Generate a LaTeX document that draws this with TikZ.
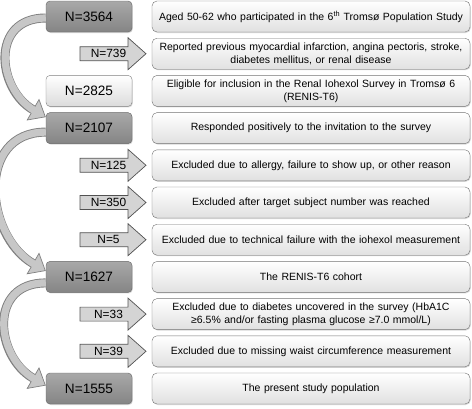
\documentclass[tikz,border=0pt]{standalone}
\usepackage{fontspec}
\setmainfont{Liberation Sans}
\usetikzlibrary{arrows.meta,shadows,calc}

\tikzset{
  countbox/.style={rounded corners=4pt, minimum width=86pt, minimum height=31pt,
    draw=black!60, top color=black!34, bottom color=black!48,
    drop shadow={shadow xshift=0.8pt, shadow yshift=-1pt, opacity=0.3},
    font=\fontsize{13.6}{16}\selectfont},
  lightbox/.style={countbox, draw=black!50, top color=white, bottom color=black!14},
  stepbox/.style={rounded corners=5pt, minimum width=318pt, minimum height=31pt,
    text width=306pt, align=center, draw=black!55, top color=white, bottom color=black!12,
    drop shadow={shadow xshift=0.8pt, shadow yshift=-1pt, opacity=0.3},
    font=\fontsize{10.5}{13}\selectfont},
  exclshape/.style={draw=black!68, line width=0.7pt, fill=black!17, line join=miter},
  excltext/.style={inner sep=0pt, font=\fontsize{11.9}{14}\selectfont},
  band/.style={line width=9pt, draw=black!50,
    -{Triangle[length=15pt, width=25pt, fill=black!22, line width=0.7pt]}},
  bandfill/.style={line width=7.2pt, draw=black!22, shorten >=13pt}
}

\begin{document}
\begin{tikzpicture}[x=1pt,y=1pt]
  \useasboundingbox (0,0) rectangle (472,-408);
  % Counts on the left
  \node[countbox] (n3564) at (89,-16.5) {N=3564};
  \node[lightbox] (n2825) at (89,-90.9) {N=2825};
  \node[countbox] (n2107) at (89,-128.1) {N=2107};
  \node[countbox] (n1627) at (89,-276.9) {N=1627};
  \node[countbox] (n1555) at (89,-388.5) {N=1555};
  % Exclusion arrows
  \foreach \y/\n in {-53.7/739, -165.3/125, -202.5/350, -239.7/5, -314.1/33, -351.3/39} {
    \draw[exclshape] (80,\y+7) -- (128,\y+7) -- (128,\y+16) -- (146,\y)
      -- (128,\y-16) -- (128,\y-7) -- (80,\y-7) -- cycle;
    \node[excltext] (n\n) at (108.5,\y) {N=\n};
  }
  % Descriptions on the right
  \node[stepbox] (s1) at (311,-16.5) {Aged 50-62 who participated in the 6\textsuperscript{th} Troms\o{} Population Study};
  \node[stepbox] (s2) at (311,-53.7) {Reported previous myocardial infarction, angina pectoris, stroke,\\ diabetes mellitus, or renal disease};
  \node[stepbox] (s3) at (311,-90.9) {Eligible for inclusion in the Renal Iohexol Survey in Troms\o{} 6\\ (RENIS-T6)};
  \node[stepbox] (s4) at (311,-128.1) {Responded positively to the invitation to the survey};
  \node[stepbox] (s5) at (311,-165.3) {Excluded due to allergy, failure to show up, or other reason};
  \node[stepbox] (s6) at (311,-202.5) {Excluded after target subject number was reached};
  \node[stepbox] (s7) at (311,-239.7) {Excluded due to technical failure with the iohexol measurement};
  \node[stepbox] (s8) at (311,-276.9) {The RENIS-T6 cohort};
  \node[stepbox] (s9) at (311,-314.1) {Excluded due to diabetes uncovered in the survey (HbA1C\\ ≥6.5\% and/or fasting plasma glucose ≥7.0 mmol/L)};
  \node[stepbox] (s10) at (311,-351.3) {Excluded due to missing waist circumference measurement};
  \node[stepbox] (s11) at (311,-388.5) {The present study population};
  % Curved arrows between the remaining counts
  \draw[band] ([yshift=-1.5pt]n3564.west) to[out=180,in=150,looseness=1.45] ([yshift=11pt]n2107.west);
  \draw[bandfill] ([yshift=-1.5pt]n3564.west) to[out=180,in=150,looseness=1.45] ([yshift=11pt]n2107.west);
  \draw[band] ([yshift=-4pt]n2107.west) to[out=180,in=150,looseness=1.3] ([yshift=6pt]n1627.west);
  \draw[bandfill] ([yshift=-4pt]n2107.west) to[out=180,in=150,looseness=1.3] ([yshift=6pt]n1627.west);
  \draw[band] ([yshift=-6pt]n1627.west) to[out=180,in=150,looseness=1.45] ([yshift=3pt]n1555.west);
  \draw[bandfill] ([yshift=-6pt]n1627.west) to[out=180,in=150,looseness=1.45] ([yshift=3pt]n1555.west);
\end{tikzpicture}
\end{document}
